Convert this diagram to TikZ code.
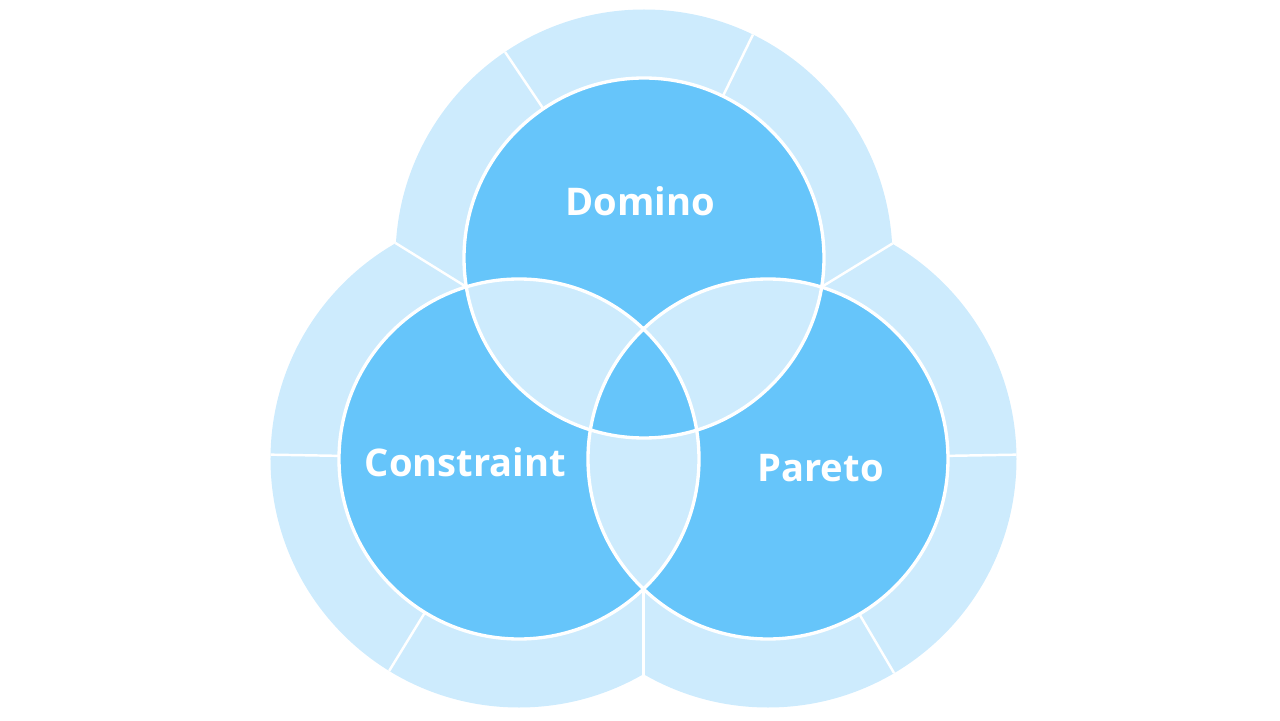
\documentclass[tikz,border=0pt]{standalone}
\usepackage{fontspec}
\setsansfont{Open Sans}
\usepackage{xcolor}
\usepackage{tikz}
\usetikzlibrary{calc}
\definecolor{vennblue}{RGB}{102,197,250}
\definecolor{vennlight}{RGB}{205,235,253}

\begin{document}
\begin{tikzpicture}[
    teks/.style={text=white, font=\sffamily\bfseries\fontsize{21.7}{26}\selectfont},
    sekat/.style={white, line width=1.4pt},
    tepi/.style={draw=white, line width=1.9pt}
  ]
    \useasboundingbox (-12.8,-7.2) rectangle (12.8,7.2);
    \coordinate (dom) at (0.08,2.04);
    \coordinate (con) at (-2.42,-1.98);
    \coordinate (par) at (2.56,-1.98);
    % cincin luar
    \fill[vennlight] (dom) circle (4.97) (con) circle (4.97) (par) circle (4.97);
    \foreach \c/\a in {dom/64, dom/124, con/179, con/238.5, par/1, par/-59.5}
      \draw[sekat] ($(\c)+(\a:3.6)$) -- ($(\c)+(\a:4.97)$);
    \coordinate (dc1) at (-3.47,1.46);
    \coordinate (dc2) at (-4.89,2.34);
    \coordinate (dp1) at (3.63,1.46);
    \coordinate (dp2) at (5.05,2.33);
    \coordinate (cp1) at (0.07,-4.58);
    \coordinate (cp2) at (0.07,-6.29);
    \draw[sekat] (dc1) -- (dc2);
    \draw[sekat] (dp1) -- (dp2);
    \draw[sekat] (cp1) -- (cp2);
    % lingkaran dalam
    \fill[vennblue, even odd rule] (dom) circle (3.6) (con) circle (3.6) (par) circle (3.6);
    \draw[tepi] (dom) circle (3.6) (con) circle (3.6) (par) circle (3.6);
    \node[teks] (domino) at (0.0,3.18) {Domino};
    \node[teks] (constraint) at (-3.49,-2.05) {Constraint};
    \node[teks] (pareto) at (3.61,-2.16) {Pareto};
  \end{tikzpicture}
\end{document}
